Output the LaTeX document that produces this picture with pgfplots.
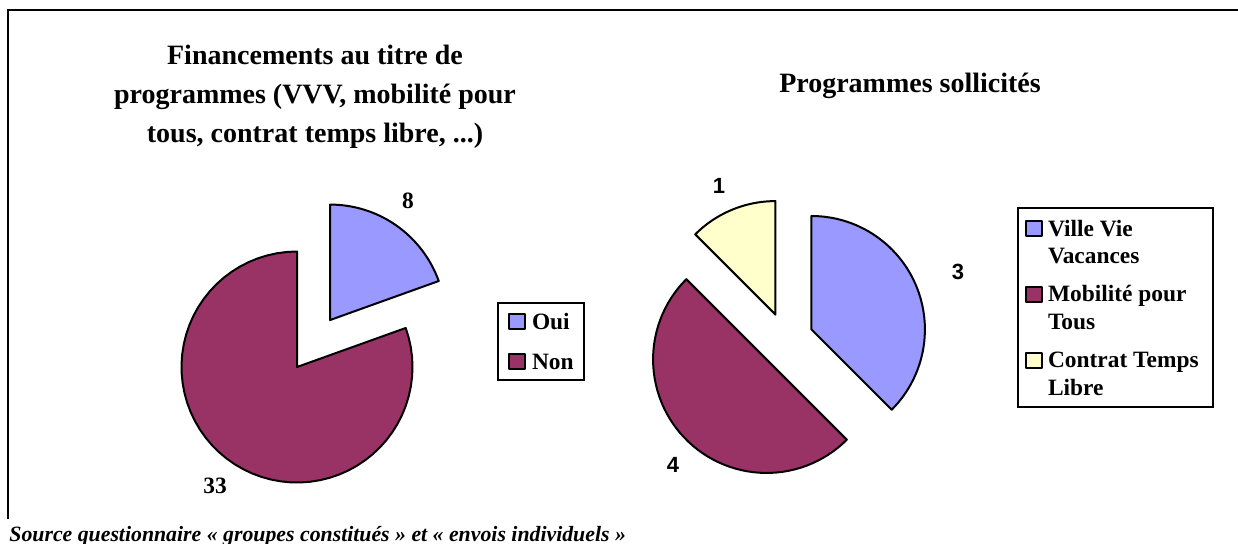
\documentclass[border=0pt]{standalone}
\usepackage{fontspec}
\setmainfont{Liberation Serif}
\newfontfamily\arial{Liberation Sans}
\usepackage{pgfplots}
\pgfplotsset{compat=1.18}
\usepackage{pgfplotstable}

\definecolor{cOui}{HTML}{9999FF}
\definecolor{cNon}{HTML}{993366}
\definecolor{cCTL}{HTML}{FFFFCC}

\pgfplotstableread{
label value
Oui 8
Non 33
}\tabA
\pgfplotstableread{
label value
VVV 3
MPT 4
CTL 1
}\tabB

\pgfplotsset{
  base/.style={at={(0,0)}, anchor=south west, width=619pt, height=271.5pt,
    scale only axis, xmin=0, xmax=1238, ymin=0, ymax=543, y dir=reverse,
    hide axis, clip=false},
  pie/.style={draw=black, line width=1pt, line join=round, samples=60,
    legend image code/.code={\draw[##1] (0pt,0pt) rectangle (8pt,7.5pt);}},
}

\begin{document}
\begin{tikzpicture}
\pgfplotstablegetelem{0}{value}\of\tabA \let\vOui\pgfplotsretval
\pgfplotstablegetelem{1}{value}\of\tabA \let\vNon\pgfplotsretval
\pgfmathsetmacro\tA{\vOui+\vNon}
\pgfmathsetmacro\eOui{90-360*\vOui/\tA}
\pgfmathsetmacro\mOui{90-180*\vOui/\tA}
\pgfmathsetmacro\cxOui{297+57.4*cos(\mOui)}
\pgfmathsetmacro\cyOui{367-57.4*sin(\mOui)}

\pgfplotstablegetelem{0}{value}\of\tabB \let\vV\pgfplotsretval
\pgfplotstablegetelem{1}{value}\of\tabB \let\vM\pgfplotsretval
\pgfplotstablegetelem{2}{value}\of\tabB \let\vC\pgfplotsretval
\pgfmathsetmacro\tB{\vV+\vM+\vC}
\pgfmathsetmacro\eV{90-360*\vV/\tB}
\pgfmathsetmacro\eM{\eV-360*\vM/\tB}
\pgfmathsetmacro\eC{\eM-360*\vC/\tB}
\pgfmathsetmacro\mV{(90+\eV)/2}
\pgfmathsetmacro\mM{(\eV+\eM)/2}
\pgfmathsetmacro\mC{(\eM+\eC)/2}
\pgfmathsetmacro\cxV{786+27.5*cos(\mV)}
\pgfmathsetmacro\cyV{340-27.5*sin(\mV)}
\pgfmathsetmacro\cxM{786+27.5*cos(\mM)}
\pgfmathsetmacro\cyM{340-27.5*sin(\mM)}
\pgfmathsetmacro\cxC{786+27.5*cos(\mC)}
\pgfmathsetmacro\cyC{340-27.5*sin(\mC)}

% ---------- left chart ----------
\begin{axis}[base,
  legend style={at={(axis cs:497,302)}, anchor=north west, draw=black, line width=1pt,
    inner xsep=5pt, inner ysep=5pt, row sep=11.5pt,
    font=\bfseries\fontsize{11.7}{14}\selectfont,
    nodes={inner sep=0pt, text height=8pt, text depth=0pt},
    cells={anchor=base west},
    /tikz/every odd column/.append style={column sep=3pt}},
  ]
\addplot[pie, fill=cOui, domain=\eOui:90] ({\cxOui+115.5*cos(x)},{\cyOui-115.5*sin(x)}) -- (axis cs:\cxOui,\cyOui) -- cycle;
\addlegendentry{Oui}
\addplot[pie, fill=cNon, domain=-270:\eOui] ({297+115.5*cos(x)},{367-115.5*sin(x)}) -- (axis cs:297,367) -- cycle;
\addlegendentry{Non}

\node[font=\bfseries\fontsize{11.7}{14}\selectfont] at (axis cs:408,201) {8};
\node[font=\bfseries\fontsize{11.7}{14}\selectfont] at (axis cs:215,486) {33};

\node[anchor=base, align=center, inner sep=0pt, font=\bfseries\fontsize{14}{19.5}\selectfont] at (axis cs:315,142)
  {Financements au titre de\\programmes (VVV, mobilité pour\\tous, contrat temps libre, ...)};

\draw[line width=1.2pt] (axis cs:8,519) -- (axis cs:8,10) -- (axis cs:1242,10);
\node[anchor=base west, inner sep=0pt, font=\bfseries\itshape\fontsize{10.9}{13}\selectfont] at (axis cs:9,541)
  {Source questionnaire « groupes constitués » et « envois individuels »};
\end{axis}

% ---------- right chart ----------
\begin{axis}[base,
  legend style={at={(axis cs:1017,207)}, anchor=north west, draw=black, line width=1pt,
    inner xsep=3.5pt, inner ysep=6pt, row sep=11pt,
    font=\bfseries\fontsize{11.7}{14}\selectfont,
    nodes={inner sep=0pt, text height=8pt, text depth=},
    cells={anchor=base west},
    /tikz/every odd column/.append style={column sep=2.5pt}},
  ]
\addplot[pie, fill=cOui, domain=\eV:90] ({\cxV+113.5*cos(x)},{\cyV-113.5*sin(x)}) -- (axis cs:\cxV,\cyV) -- cycle;
\addlegendentry{\parbox[t]{79pt}{\baselineskip=13.75pt Ville Vie\\Vacances}}
\addplot[pie, fill=cNon, domain=\eM:\eV] ({\cxM+113.5*cos(x)},{\cyM-113.5*sin(x)}) -- (axis cs:\cxM,\cyM) -- cycle;
\addlegendentry{\parbox[t]{79pt}{\baselineskip=13.75pt Mobilité pour\\Tous}}
\addplot[pie, fill=cCTL, domain=\eC:\eM] ({\cxC+113.5*cos(x)},{\cyC-113.5*sin(x)}) -- (axis cs:\cxC,\cyC) -- cycle;
\addlegendentry{\parbox[t]{79pt}{\baselineskip=13.75pt Contrat Temps\\Libre}}

\node[font=\arial\bfseries\fontsize{11}{13}\selectfont] at (axis cs:719,186) {1};
\node[font=\arial\bfseries\fontsize{11}{13}\selectfont] at (axis cs:958,272) {3};
\node[font=\arial\bfseries\fontsize{11}{13}\selectfont] at (axis cs:673,465) {4};

\node[anchor=base, inner sep=0pt, font=\bfseries\fontsize{14}{19.5}\selectfont] at (axis cs:910,92)
  {Programmes sollicités};
\end{axis}
\pgfresetboundingbox
\path[use as bounding box] (0,0) rectangle (619pt,271.5pt);
\end{tikzpicture}
\end{document}
